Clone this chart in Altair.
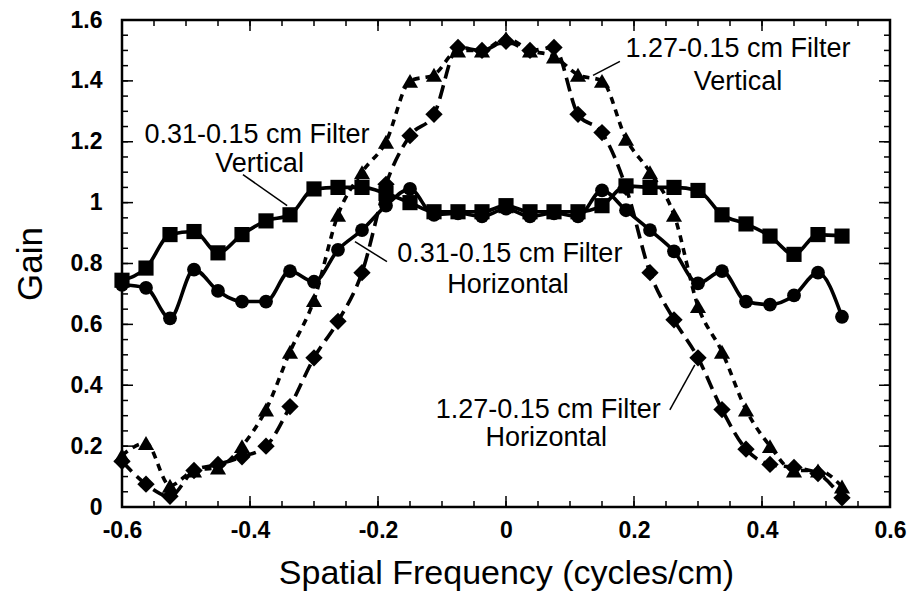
import altair as alt
import pandas as pd
import numpy as np

freq = [-0.6, -0.5625, -0.525, -0.4875, -0.45, -0.4125, -0.375, -0.3375, -0.3, -0.2625,
        -0.225, -0.1875, -0.15, -0.1125, -0.075, -0.0375, 0.0, 0.0375, 0.075, 0.1125,
        0.15, 0.1875, 0.225, 0.2625, 0.3, 0.3375, 0.375, 0.4125, 0.45, 0.4875, 0.525]

v031 = [0.745, 0.785, 0.895, 0.905, 0.835, 0.895, 0.94, 0.96, 1.045, 1.05,
        1.05, 1.03, 1.0, 0.97, 0.97, 0.97, 0.99, 0.97, 0.97, 0.97,
        0.99, 1.055, 1.05, 1.05, 1.04, 0.96, 0.93, 0.89, 0.83, 0.895, 0.89]
h031 = [0.73, 0.72, 0.62, 0.78, 0.71, 0.675, 0.675, 0.775, 0.74, 0.845,
        0.91, 0.99, 1.045, 0.96, 0.965, 0.955, 0.98, 0.955, 0.965, 0.955,
        1.04, 0.975, 0.91, 0.84, 0.735, 0.775, 0.675, 0.665, 0.695, 0.77, 0.625]
v127 = [0.17, 0.21, 0.07, 0.12, 0.13, 0.2, 0.32, 0.51, 0.68, 0.96,
        1.1, 1.2, 1.4, 1.42, 1.5, 1.5, 1.54, 1.5, 1.48, 1.42,
        1.4, 1.21, 1.1, 0.96, 0.66, 0.51, 0.32, 0.2, 0.12, 0.12, 0.067]
h127 = [0.15, 0.075, 0.035, 0.12, 0.14, 0.165, 0.2, 0.33, 0.49, 0.61,
        0.77, 1.06, 1.22, 1.29, 1.51, 1.5, 1.53, 1.5, 1.51, 1.29,
        1.23, 1.05, 0.77, 0.615, 0.49, 0.32, 0.19, 0.14, 0.13, 0.11, 0.03]

x_major = [-0.6, -0.4, -0.2, 0.0, 0.2, 0.4, 0.6]
y_major = [0.0, 0.2, 0.4, 0.6, 0.8, 1.0, 1.2, 1.4, 1.6]
x_minor = [round(v, 3) for v in np.arange(-0.55, 0.6, 0.05)]
y_minor = [round(v, 3) for v in np.arange(0.05, 1.6, 0.05)]

ann_text = ["0.31-0.15 cm Filter", "Vertical",
            "1.27-0.15 cm Filter", "Vertical",
            "0.31-0.15 cm Filter", "Horizontal",
            "1.27-0.15 cm Filter", "Horizontal"]
ann_x = [-0.389, -0.385, 0.3625, 0.3625, 0.006, 0.003, 0.066, 0.063]
ann_y = [1.222, 1.128, 1.506, 1.396, 0.832, 0.728, 0.318, 0.226]

lead_x = [-0.411, 0.178, -0.186, 0.256]
lead_x2 = [-0.342, 0.136, -0.236, 0.295]
lead_y = [1.092, 1.464, 0.806, 0.319]
lead_y2 = [0.99, 1.418, 0.872, 0.467]

W, H = 768, 487
FONT = "Liberation Sans"
lbl = "datum.value < 0 ? '-' + format(-datum.value, '~g') : format(datum.value, '~g')"

xs = alt.Scale(domain=[-0.6, 0.6], nice=False, zero=False, padding=0)
ys = alt.Scale(domain=[0, 1.6], nice=False, padding=0)
xaxis = alt.Axis(values=x_major, ticks=False, domain=False, grid=False,
                 labelExpr=lbl, labelFont=FONT, labelFontSize=23, labelFlush=False,
                 labelFontWeight="bold", labelPadding=12,
                 title="Spatial Frequency (cycles/cm)", titleFont=FONT,
                 titleFontSize=34, titleFontWeight="normal", titlePadding=14)
yaxis = alt.Axis(values=y_major, ticks=False, domain=False, grid=False,
                 labelExpr=lbl, labelFont=FONT, labelFontSize=23, labelFlush=False,
                 labelFontWeight="bold", labelPadding=20,
                 title="Gain", titleFont=FONT, titleFontSize=35,
                 titleFontWeight="normal", titlePadding=22)


def X(field="x"):
    return alt.X(f"{field}:Q", scale=xs, axis=xaxis)


def Y(field="y"):
    return alt.Y(f"{field}:Q", scale=ys, axis=yaxis)


series = [
    (v031, "square", None, 230),
    (h031, "circle", None, 190),
    (v127, "triangle-up", [7, 6], 260),
    (h127, "diamond", [14, 7], 300),
]

layers = []
for vals, shape, dash, size in series:
    df = pd.DataFrame({"x": freq, "y": vals})
    base = alt.Chart(df)
    lkw = dict(color="black", strokeWidth=3.6, interpolate="monotone")
    if dash:
        lkw["strokeDash"] = dash
    layers.append(base.mark_line(**lkw).encode(x=X(), y=Y()))
    layers.append(base.mark_point(shape=shape, filled=True, color="black", size=size, opacity=1)
                  .encode(x=X(), y=Y()))


def xticks(vals, length):
    b = alt.Chart(pd.DataFrame({"x": vals})).mark_rule(color="black", strokeWidth=1.5)
    return [b.encode(x=X(), y=alt.value(H), y2=alt.value(H - length)),
            b.encode(x=X(), y=alt.value(0), y2=alt.value(length))]


def yticks(vals, length):
    b = alt.Chart(pd.DataFrame({"y": vals})).mark_rule(color="black", strokeWidth=1.5)
    return [b.encode(y=Y(), x=alt.value(0), x2=alt.value(length)),
            b.encode(y=Y(), x=alt.value(W), x2=alt.value(W - length))]


layers += xticks(x_major, 11) + xticks(x_minor, 6) + yticks(y_major, 11) + yticks(y_minor, 6)

ann = pd.DataFrame({"t": ann_text, "x": ann_x, "y": ann_y})
layers.append(alt.Chart(ann).mark_text(font=FONT, fontSize=27, color="black", align="center",
                                       baseline="middle")
              .encode(x=X(), y=Y(), text="t:N"))

lead = pd.DataFrame({"x": lead_x, "x2": lead_x2, "y": lead_y, "y2": lead_y2})
layers.append(alt.Chart(lead).mark_rule(color="black", strokeWidth=1.5)
              .encode(x=X(), x2="x2:Q", y=Y(), y2="y2:Q"))

chart = alt.layer(*layers).properties(
    width=W, height=H,
    autosize=alt.AutoSizeParams(type="none"),
    padding={"left": 122, "top": 20, "right": 19, "bottom": 88},
    background="white",
).configure_view(stroke="black", strokeWidth=2.5)

chart.save("out.html", embed_options={"renderer": "svg", "actions": False})
